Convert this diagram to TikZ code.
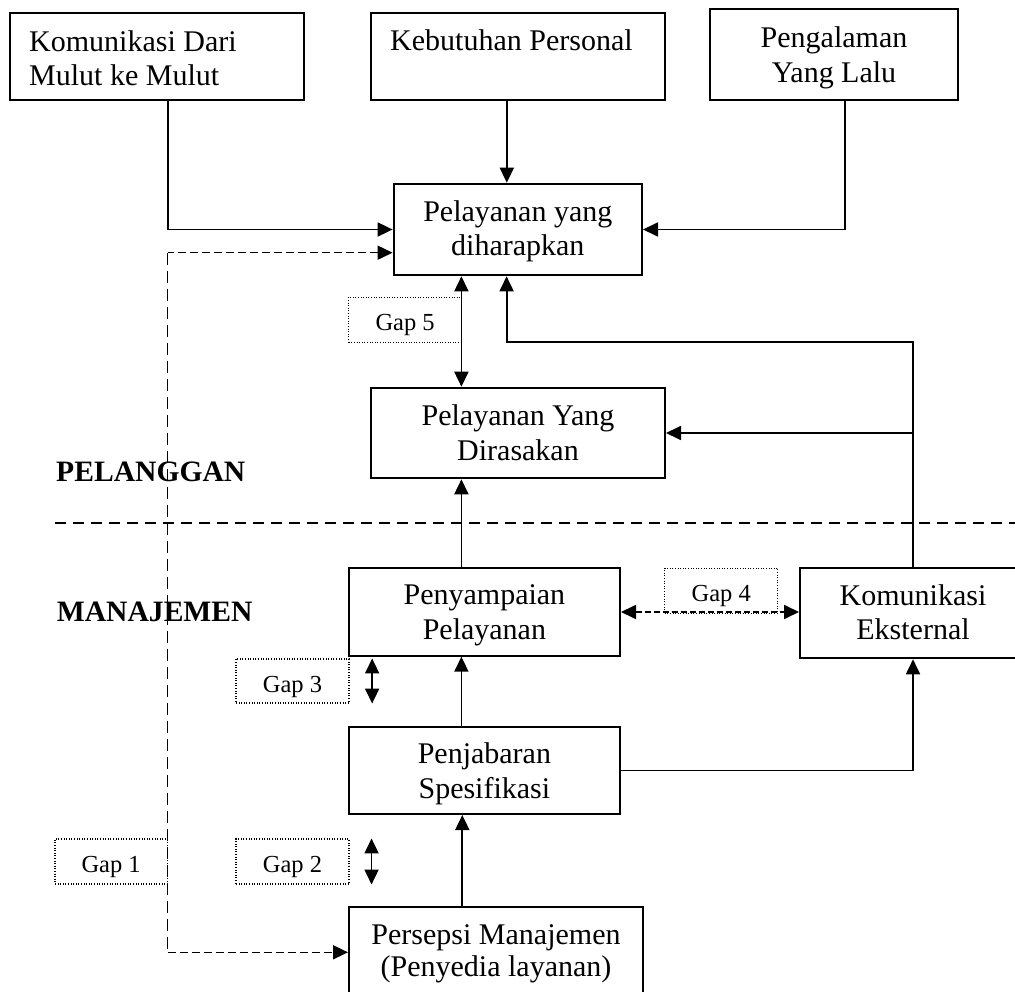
\documentclass[tikz,border=0pt]{standalone}
\usepackage{fontspec}
\setmainfont{Liberation Serif}
\usetikzlibrary{arrows.meta}
\tikzset{
  boxnode/.style={draw, line width=2pt, inner sep=0pt},
  txt/.style={font=\fontsize{30}{34.5}\selectfont, inner sep=0pt, align=center},
  gapbox/.style={draw, line width=1.1pt, dash pattern=on 1pt off 1.6pt, inner sep=0pt,
    minimum width=113pt, minimum height=45pt, font=\fontsize{24.5}{28}\selectfont,
    text height=28pt, text depth=6pt},
  tip/.tip={Triangle[length=15pt,width=14pt]},
  conn/.style={line width=1.8pt, -tip},
  dconn/.style={line width=1.8pt, tip-tip},
  hdash/.style={line width=1.6pt, dash pattern=on 8pt off 4pt},
  vdash/.style={line width=1.6pt, dash pattern=on 12pt off 6pt},
  lbl/.style={font=\fontsize{29.6}{34}\selectfont\bfseries, inner sep=0pt, anchor=base west},
}
\begin{document}
\begin{tikzpicture}[x=1pt,y=-1pt]
\useasboundingbox (0,0) rectangle (1015,992);
\clip (0,0) rectangle (1015,992);

% boxes
\node[boxnode, minimum width=293.9pt, minimum height=87.3pt] (kom) at (156.65,56.35) {};
\node[boxnode, minimum width=294pt, minimum height=87.3pt] (keb) at (518,56.35) {};
\node[boxnode, minimum width=248pt, minimum height=90.7pt] (peng) at (834,54.65) {};
\node[boxnode, minimum width=248.4pt, minimum height=91.6pt] (harap) at (517.8,229.5) {};
\node[boxnode, minimum width=294pt, minimum height=90.6pt] (rasa) at (518,433) {};
\node[boxnode, minimum width=271.2pt, minimum height=87.4pt] (sampai) at (484.4,612) {};
\node[boxnode, minimum width=226pt, minimum height=90pt] (eks) at (913,613.3) {};
\node[boxnode, minimum width=271.2pt, minimum height=87pt] (jabar) at (484.4,770.5) {};
\node[boxnode, minimum width=294pt, minimum height=87.4pt] (pers) at (496,950.7) {};

% box texts
\node[txt, anchor=west, align=left] (komT) at (29,58.1) {Komunikasi Dari\\Mulut ke Mulut};
\node[txt, anchor=west, align=left] (kebT) at (390,40.5) {Kebutuhan Personal};
\node[txt] (pengT) at (834,57.7) {Pengalaman\\Yang Lalu};
\node[txt] (harapT) at (517.8,231.4) {Pelayanan yang\\diharapkan};
\node[txt] (rasaT) at (518,432.6) {Pelayanan Yang\\Dirasakan};
\node[txt] (sampaiT) at (484.4,615.5) {Penyampaian\\Pelayanan};
\node[txt] (eksT) at (913,612.2) {Komunikasi\\Eksternal};
\node[txt] (jabarT) at (484.4,774) {Penjabaran\\Spesifikasi};
\node[txt, font=\fontsize{30}{31.7}\selectfont] (persT) at (496,953.9) {Persepsi Manajemen\\(Penyedia layanan)};

% side labels
\node[lbl] (pel) at (56,481.7) {PELANGGAN};
\node[lbl] (man) at (56.7,621.7) {MANAJEMEN};

% gap boxes
\node[gapbox, minimum width=112.6pt] (g5) at (405.1,319.8) {Gap 5};
\node[gapbox, minimum width=113.1pt] (g4) at (721.25,590.8) {Gap 4};
\node[gapbox, minimum width=113pt, minimum height=44pt] (g3) at (292.5,681) {Gap 3};
\node[gapbox, minimum width=113pt] (g2) at (292.5,861.5) {Gap 2};
\node[gapbox, minimum width=112.3pt] (g1) at (111.15,861.5) {Gap 1};

% separator
\coordinate (s1) at (55,523);
\coordinate (s2) at (1015,523);
\draw[line width=2.2pt, dash pattern=on 11pt off 7pt] (s1) -- (s2);

% inputs to expected service
\draw[conn] ([xshift=11.65pt]kom.south) |- (harap.west);
\draw[conn] ([xshift=-11.2pt]keb.south) -- ([xshift=-11.2pt]keb.south |- harap.north);
\draw[conn] ([xshift=10.7pt]peng.south) |- (harap.east);

% gap 1 dashed connector
\coordinate (d0) at (167.5,252.7);
\coordinate (d1) at (167.5,952.3);
\draw[hdash, tip-] ([yshift=-23.2pt]harap.west) -- (d0);
\draw[vdash] (d0) -- (d1);
\draw[hdash, -tip] (d1) -- (d1 -| pers.west);

% gap 5
\draw[dconn] ([xshift=-56.4pt]harap.south) -- ([xshift=-56.4pt]harap.south |- rasa.north);

% external communication
\coordinate (e1) at (913,342.3);
\coordinate (e2) at (913,433);
\draw[conn] (eks.north) -- (e1) -| ([xshift=-11.2pt]harap.south);
\draw[conn] (e2) -- (rasa.east);

% vertical chain
\draw[conn] ([xshift=-23pt]sampai.north) -- ([xshift=-23pt]sampai.north |- rasa.south);
\draw[conn] ([xshift=-23pt]jabar.north) -- ([xshift=-23pt]jabar.north |- sampai.south);
\draw[conn] ([xshift=-33.7pt]pers.north) -- ([xshift=-33.7pt]pers.north |- jabar.south);
\draw[conn] (jabar.east) -| (eks.south);

% gap 4
\draw[line width=1.8pt, dash pattern=on 6pt off 3pt, tip-tip] (sampai.east) -- (sampai.east -| eks.west);

% gap 3 and gap 2 arrows
\draw[dconn] ([xshift=22.6pt]g3.north east) -- ([xshift=22.6pt]g3.south east);
\draw[dconn] ([xshift=22pt]g2.north east) -- ([xshift=22pt]g2.south east);
\end{tikzpicture}
\end{document}
